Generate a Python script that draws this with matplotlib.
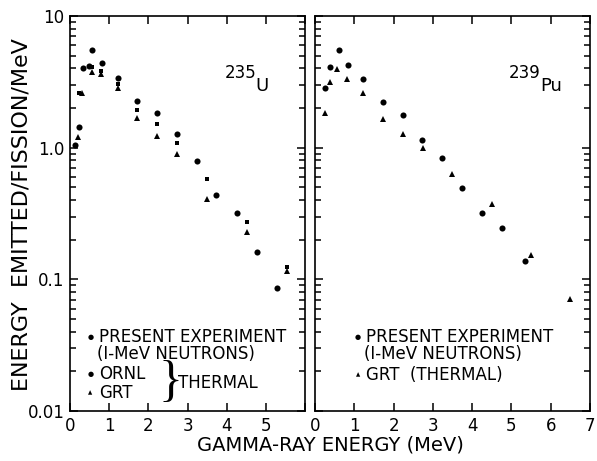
import matplotlib
matplotlib.use("Agg")
import matplotlib.pyplot as plt
from matplotlib.ticker import FixedLocator, FixedFormatter, LogLocator, NullFormatter

# 235U panel
u_present_x = [0.13, 0.22, 0.34, 0.49, 0.56, 0.81, 1.22, 1.72, 2.22, 2.73, 3.23, 3.74, 4.27, 4.77, 5.28]
u_present_y = [1.05, 1.43, 4.06, 4.2, 5.5, 4.38, 3.4, 2.28, 1.84, 1.26, 0.786, 0.438, 0.32, 0.162, 0.086]
u_ornl_x = [0.22, 0.55, 0.8, 1.22, 1.72, 2.22, 2.73, 3.5, 4.53, 5.53]
u_ornl_y = [2.6, 4.1, 3.82, 3.06, 1.93, 1.5, 1.09, 0.577, 0.271, 0.124]
u_grt_x = [0.2, 0.3, 0.55, 0.8, 1.22, 1.72, 2.22, 2.73, 3.5, 4.53, 5.55]
u_grt_y = [1.2, 2.6, 3.75, 3.61, 2.86, 1.69, 1.23, 0.895, 0.41, 0.23, 0.115]

# 239Pu panel
pu_present_x = [0.25, 0.39, 0.6, 0.85, 1.22, 1.73, 2.24, 2.73, 3.23, 3.73, 4.25, 4.75, 5.35]
pu_present_y = [2.86, 4.08, 5.47, 4.23, 3.35, 2.23, 1.78, 1.14, 0.84, 0.495, 0.32, 0.244, 0.137]
pu_grt_x = [0.25, 0.38, 0.56, 0.81, 1.23, 1.73, 2.23, 2.75, 3.49, 4.5, 5.49, 6.5]
pu_grt_y = [1.82, 3.15, 3.94, 3.35, 2.61, 1.66, 1.27, 1.0, 0.63, 0.374, 0.154, 0.071]

y_ticks = [0.01, 0.1, 1.0, 10]
y_tick_labels = ["0.01", "0.1", "1.0", "10"]

fig = plt.figure(figsize=(5.97, 4.61), dpi=100)
ax1 = fig.add_axes([70 / 597, 50 / 461, 235 / 597, 395 / 461])
ax2 = fig.add_axes([315 / 597, 50 / 461, 275 / 597, 395 / 461])

ms = 4.4
ax1.plot(u_present_x, u_present_y, 'o', color='black', ms=ms, mew=0)
ax1.plot(u_ornl_x, u_ornl_y, 's', color='black', ms=ms - 1.0, mew=0)
ax1.plot(u_grt_x, u_grt_y, '^', color='black', ms=ms, mew=0)
ax2.plot(pu_present_x, pu_present_y, 'o', color='black', ms=ms, mew=0)
ax2.plot(pu_grt_x, pu_grt_y, '^', color='black', ms=ms, mew=0)

for ax, xmax in [(ax1, 6), (ax2, 7)]:
    ax.set_yscale('log')
    ax.set_ylim(0.01, 10)
    ax.set_xlim(0, xmax)
    ax.xaxis.set_major_locator(FixedLocator(list(range(xmax + 1))))
    ax.yaxis.set_major_locator(FixedLocator(y_ticks))
    ax.yaxis.set_minor_locator(LogLocator(base=10, subs=range(2, 10)))
    ax.yaxis.set_minor_formatter(NullFormatter())
    ax.tick_params(which='both', direction='in', top=True, right=True, width=1.1)
    ax.tick_params(which='major', length=6, labelsize=12, pad=4)
    ax.tick_params(which='minor', length=4)
    for s in ax.spines.values():
        s.set_linewidth(1.2)

ax1.yaxis.set_major_formatter(FixedFormatter(y_tick_labels))
ax1.xaxis.set_major_formatter(FixedFormatter(["0", "1", "2", "3", "4", "5", ""]))
ax2.yaxis.set_major_formatter(NullFormatter())
ax2.xaxis.set_major_formatter(FixedFormatter([str(i) for i in range(8)]))

# nuclide labels
ax1.text(0.66, 0.856, "235", transform=ax1.transAxes, fontsize=12, va='center')
ax1.text(0.79, 0.822, "U", transform=ax1.transAxes, fontsize=13, va='center')
ax2.text(0.705, 0.856, "239", transform=ax2.transAxes, fontsize=12, va='center')
ax2.text(0.818, 0.822, "Pu", transform=ax2.transAxes, fontsize=13, va='center')

# legends
leg = dict(fontsize=12, va='center', ha='left')
ax1.text(0.087, 0.187, "●", transform=ax1.transAxes, fontsize=5, va='center', ha='center')
ax1.text(0.125, 0.187, "PRESENT EXPERIMENT", transform=ax1.transAxes, **leg)
ax1.text(0.115, 0.144, "(I-MeV NEUTRONS)", transform=ax1.transAxes, **leg)
ax1.text(0.087, 0.094, "●", transform=ax1.transAxes, fontsize=5, va='center', ha='center')
ax1.text(0.125, 0.094, "ORNL", transform=ax1.transAxes, **leg)
ax1.text(0.087, 0.046, "▲", transform=ax1.transAxes, fontsize=4, va='center', ha='center')
ax1.text(0.125, 0.046, "GRT", transform=ax1.transAxes, **leg)
ax1.text(0.375, 0.072, "}", transform=ax1.transAxes, fontsize=36, va='center', ha='left',
         family='Liberation Serif', fontweight='light')
ax1.text(0.46, 0.07, "THERMAL", transform=ax1.transAxes, **leg)

ax2.text(0.156, 0.187, "●", transform=ax2.transAxes, fontsize=5, va='center', ha='center')
ax2.text(0.185, 0.187, "PRESENT EXPERIMENT", transform=ax2.transAxes, **leg)
ax2.text(0.18, 0.144, "(I-MeV NEUTRONS)", transform=ax2.transAxes, **leg)
ax2.text(0.156, 0.091, "▲", transform=ax2.transAxes, fontsize=4, va='center', ha='center')
ax2.text(0.185, 0.091, "GRT  (THERMAL)", transform=ax2.transAxes, **leg)

fig.text(22 / 597, 1 - 215 / 461, "ENERGY  EMITTED/FISSION/MeV", rotation=90,
         fontsize=16, ha='center', va='center')
fig.text(330 / 597, 1 - 445 / 461, "GAMMA-RAY ENERGY (MeV)", fontsize=14,
         ha='center', va='center')

fig.savefig("out.png", dpi=100)
